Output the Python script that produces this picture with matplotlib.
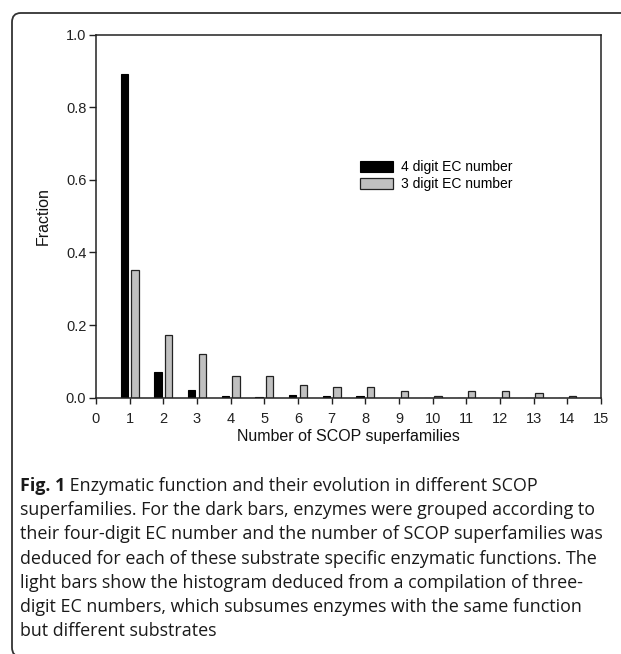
import matplotlib
matplotlib.use("Agg")
import matplotlib.pyplot as plt
from matplotlib.patches import FancyBboxPatch
import numpy as np

# Data
superfamilies = [1, 2, 3, 4, 5, 6, 7, 8, 9, 10, 11, 12, 13, 14]
four_digit = [0.891, 0.070, 0.022, 0.005, 0.002, 0.008, 0.004, 0.004, 0.0, 0.0, 0.0, 0.0, 0.0, 0.0]
three_digit = [0.352, 0.174, 0.120, 0.061, 0.061, 0.035, 0.030, 0.030, 0.018, 0.005, 0.018, 0.018, 0.013, 0.005]
x_ticks = list(range(0, 16))
y_ticks = [0.0, 0.2, 0.4, 0.6, 0.8, 1.0]
series_labels = ["4 digit EC number", "3 digit EC number"]
x_label = "Number of SCOP superfamilies"
y_label = "Fraction"
caption_bold = "Fig. 1"
caption_lines = [
    " Enzymatic function and their evolution in different SCOP",
    "superfamilies. For the dark bars, enzymes were grouped according to",
    "their four-digit EC number and the number of SCOP superfamilies was",
    "deduced for each of these substrate specific enzymatic functions. The",
    "light bars show the histogram deduced from a compilation of three-",
    "digit EC numbers, which subsumes enzymes with the same function",
    "but different substrates",
]

plt.rcParams['font.family'] = ['Liberation Sans', 'DejaVu Sans']

W, H = 621, 654
fig = plt.figure(figsize=(W / 100, H / 100), dpi=100)

# Outer frame (rounded box, open to the right)
frame = FancyBboxPatch((12 / W, -0.004), 1.2, 1 - 13 / H + 0.004,
                       boxstyle="round,pad=0,rounding_size=0.014",
                       transform=fig.transFigure, fill=False,
                       edgecolor="#333333", linewidth=1.3, clip_on=False)
fig.patches.append(frame)

ax_l, ax_r = 96 / W, 601 / W
ax_b, ax_t = (H - 397.7) / H, (H - 34.5) / H
ax = fig.add_axes([ax_l, ax_b, ax_r - ax_l, ax_t - ax_b])

x = np.array(superfamilies, dtype=float)
bw = 0.22
ax.bar(x - 0.155, four_digit, width=bw, color="black", edgecolor="black",
       linewidth=0.8, label=series_labels[0])
ax.bar(x + 0.155, three_digit, width=bw, color="#c0c0c0", edgecolor="#222222",
       linewidth=0.9, label=series_labels[1])

ax.set_xlim(0, 15)
ax.set_ylim(0, 1.0)
ax.set_xticks(x_ticks)
ax.set_xticklabels([str(v) for v in x_ticks])
ax.set_yticks(y_ticks)
ax.set_yticklabels([f"{v:.1f}" for v in y_ticks])
ax.tick_params(axis="x", direction="out", length=4.3, width=1, colors="#222222",
               pad=6, labelsize=10.5)
ax.tick_params(axis="y", direction="out", length=5, width=1, colors="#222222",
               pad=2, labelsize=10.5)
for s in ax.spines.values():
    s.set_linewidth(1.1)
    s.set_color("#222222")

ax.set_xlabel(x_label, fontsize=11.5, labelpad=2, color="#111111")
ax.set_ylabel(y_label, fontsize=11.5, labelpad=11, color="#111111")

leg = ax.legend(loc="upper left", bbox_to_anchor=((360 - 96) / 505, (397.7 - 160.5) / 363.2),
                frameon=False, prop=dict(size=10),
                handlelength=2.37, handleheight=0.79, handletextpad=0.57,
                labelspacing=0.2, borderpad=0, borderaxespad=0)

# Caption
cap_font = ["Open Sans", "DejaVu Sans"]
cap_size = 12.9
cap_color = "#1a1a1a"
base0 = 491
pitch = 24.2
fig.canvas.draw()
renderer = fig.canvas.get_renderer()
t0 = fig.text(20 / W, 1 - base0 / H, caption_bold, fontfamily=cap_font, fontweight="bold",
              fontsize=cap_size, color=cap_color, va="baseline", ha="left")
bb = t0.get_window_extent(renderer=renderer)
fig.text(bb.x1 / W, 1 - base0 / H, caption_lines[0], fontfamily=cap_font,
         fontsize=cap_size, color=cap_color, va="baseline", ha="left")
for i, line in enumerate(caption_lines[1:], start=1):
    yy = base0 + i * pitch
    fig.text(20 / W, 1 - yy / H, line, fontfamily=cap_font, fontsize=cap_size,
             color=cap_color, va="baseline", ha="left")

fig.savefig("out.png", dpi=100)
